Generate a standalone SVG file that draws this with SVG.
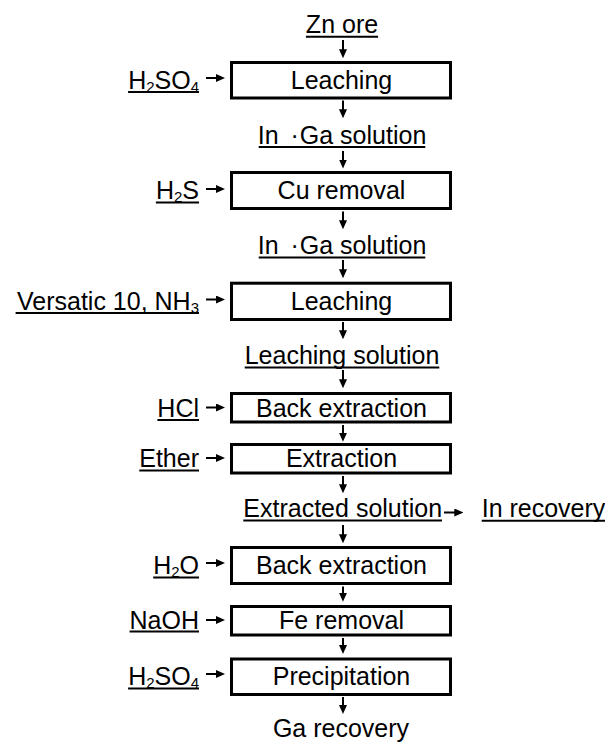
<svg xmlns="http://www.w3.org/2000/svg" width="605" height="742" viewBox="0 0 605 742">
<style>
text{font-family:"Liberation Sans",Arial,"Noto Sans CJK JP",sans-serif;font-size:25px;fill:#000}
.c{text-anchor:middle}
.r{text-anchor:end}
.box{fill:#fff;stroke:#000;stroke-width:3}
.ul{stroke:#000;stroke-width:2}
.ar{stroke:#000;stroke-width:2;fill:none;marker-end:url(#ah)}
</style>
<defs>
<marker id="ah" markerUnits="userSpaceOnUse" markerWidth="9" markerHeight="8" refX="3" refY="4" orient="auto">
<path d="M0,0 L9,4 L0,8 z" fill="#000"/>
</marker>
</defs>

<g id="connectors">
<line class="ar" x1="343" y1="40" x2="343" y2="52.3"/>
<line class="ar" x1="343" y1="100.5" x2="343" y2="112.3"/>
<line class="ar" x1="343" y1="151" x2="343" y2="162.5"/>
<line class="ar" x1="343" y1="211.5" x2="343" y2="223.3"/>
<line class="ar" x1="343" y1="260" x2="343" y2="272.3"/>
<line class="ar" x1="343" y1="322" x2="343" y2="333.3"/>
<line class="ar" x1="343" y1="370" x2="343" y2="382.3"/>
<line class="ar" x1="343" y1="425" x2="343" y2="435.7"/>
<line class="ar" x1="343" y1="476" x2="343" y2="487.3"/>
<line class="ar" x1="343" y1="525" x2="343" y2="537.3"/>
<line class="ar" x1="343" y1="586.5" x2="343" y2="595.7"/>
<line class="ar" x1="343" y1="638" x2="343" y2="648"/>
<line class="ar" x1="343" y1="697" x2="343" y2="708"/>
<line class="ar" x1="206" y1="78" x2="219" y2="78"/>
<line class="ar" x1="206" y1="189" x2="219" y2="189"/>
<line class="ar" x1="206" y1="299.5" x2="219" y2="299.5"/>
<line class="ar" x1="206" y1="407.5" x2="219" y2="407.5"/>
<line class="ar" x1="206" y1="458" x2="219" y2="458"/>
<line class="ar" x1="206" y1="563" x2="219" y2="563"/>
<line class="ar" x1="206" y1="620" x2="219" y2="620"/>
<line class="ar" x1="206" y1="674" x2="219" y2="674"/>
<line class="ar" x1="444" y1="512.5" x2="457.3" y2="512.5"/>
</g>

<g id="zn-ore">
<text class="c" x="342" y="33">Zn ore</text>
<line class="ul" x1="305.9" y1="36.8" x2="378.1" y2="36.8"/>
</g>

<g id="leaching1">
<rect class="box" x="231.5" y="62.5" width="219" height="35.5"/>
<text class="c" x="341.5" y="88.5">Leaching</text>
</g>
<g id="h2so4-1">
<text class="r" x="199" y="88.5">H<tspan font-size="15" dy="3">2</tspan><tspan dy="-3">SO</tspan><tspan font-size="15" dy="3">4</tspan></text>
<line class="ul" x1="128.1" y1="92" x2="199" y2="92"/>
</g>

<g id="inga1">
<text class="c" x="342" y="143.5">In <tspan dx="5">·</tspan><tspan dx="1">Ga solution</tspan></text>
<line class="ul" x1="258.7" y1="147" x2="425.3" y2="147"/>
</g>

<g id="cu-removal">
<rect class="box" x="231.5" y="172.5" width="219" height="36"/>
<text class="c" x="341.5" y="199">Cu removal</text>
</g>
<g id="h2s">
<text class="r" x="199" y="199">H<tspan font-size="15" dy="3">2</tspan><tspan dy="-3">S</tspan></text>
<line class="ul" x1="155.9" y1="202.5" x2="199" y2="202.5"/>
</g>

<g id="inga2">
<text class="c" x="342" y="254">In <tspan dx="5">·</tspan><tspan dx="1">Ga solution</tspan></text>
<line class="ul" x1="258.7" y1="257.5" x2="425.3" y2="257.5"/>
</g>

<g id="leaching2">
<rect class="box" x="231.5" y="283.2" width="219" height="36.3"/>
<text class="c" x="341.5" y="309.5">Leaching</text>
</g>
<g id="versatic">
<text class="r" x="199" y="309.5">Versatic 10, NH<tspan font-size="15" dy="3">3</tspan></text>
<line class="ul" x1="15.6" y1="313" x2="199" y2="313"/>
</g>

<g id="leaching-solution">
<text class="c" x="342" y="364">Leaching solution</text>
<line class="ul" x1="244.7" y1="367.5" x2="439.3" y2="367.5"/>
</g>

<g id="back-extraction1">
<rect class="box" x="231.5" y="393.5" width="219" height="28.5"/>
<text class="c" x="341.5" y="416.5">Back extraction</text>
</g>
<g id="hcl">
<text class="r" x="199" y="416.5">HCl</text>
<line class="ul" x1="157.4" y1="420" x2="199" y2="420"/>
</g>

<g id="extraction">
<rect class="box" x="231.5" y="444.5" width="219" height="28.5"/>
<text class="c" x="341.5" y="467">Extraction</text>
</g>
<g id="ether">
<text class="r" x="199" y="467">Ether</text>
<line class="ul" x1="139.3" y1="470.5" x2="199" y2="470.5"/>
</g>

<g id="extracted-solution">
<text class="c" x="342.7" y="517">Extracted solution</text>
<line class="ul" x1="243.3" y1="520.5" x2="442" y2="520.5"/>
</g>
<g id="in-recovery">
<text x="481.7" y="517">In recovery</text>
<line class="ul" x1="481.7" y1="520.8" x2="605" y2="520.8"/>
</g>

<g id="back-extraction2">
<rect class="box" x="231.5" y="547.5" width="219" height="36"/>
<text class="c" x="341.5" y="574">Back extraction</text>
</g>
<g id="h2o">
<text class="r" x="199" y="574">H<tspan font-size="15" dy="3">2</tspan><tspan dy="-3">O</tspan></text>
<line class="ul" x1="153.2" y1="577.5" x2="199" y2="577.5"/>
</g>

<g id="fe-removal">
<rect class="box" x="231.5" y="606.5" width="219" height="28.5"/>
<text class="c" x="341.5" y="629">Fe removal</text>
</g>
<g id="naoh">
<text class="r" x="199" y="629">NaOH</text>
<line class="ul" x1="129.6" y1="631.5" x2="199" y2="631.5"/>
</g>

<g id="precipitation">
<rect class="box" x="231.5" y="659" width="219" height="35.5"/>
<text class="c" x="341.5" y="685">Precipitation</text>
</g>
<g id="h2so4-2">
<text class="r" x="199" y="685">H<tspan font-size="15" dy="3">2</tspan><tspan dy="-3">SO</tspan><tspan font-size="15" dy="3">4</tspan></text>
<line class="ul" x1="128.1" y1="688.5" x2="199" y2="688.5"/>
</g>

<g id="ga-recovery">
<text class="c" x="341" y="736.5">Ga recovery</text>
</g>
</svg>
